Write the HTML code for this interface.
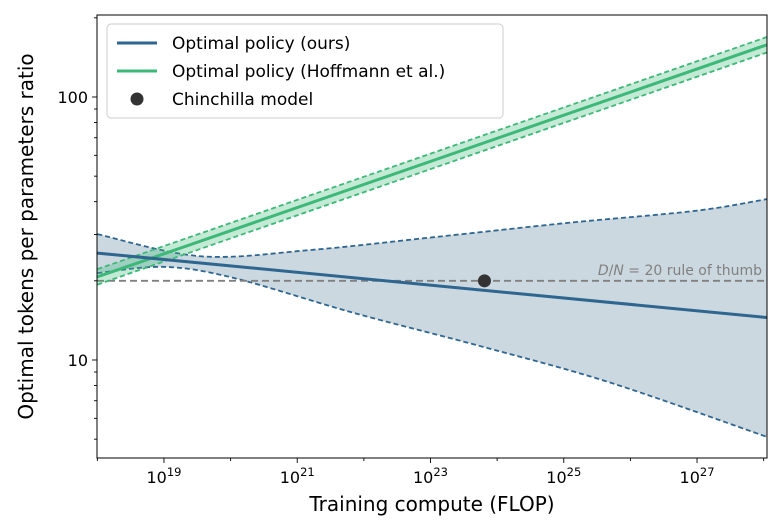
<!DOCTYPE html>
<html><head><meta charset="utf-8"><style>
body{margin:0;background:#fff;}
svg{display:block;font-family:"DejaVu Sans","Liberation Sans",sans-serif;}
</style></head><body>
<svg id="chart" width="784" height="527" viewBox="0 0 784 527" xmlns="http://www.w3.org/2000/svg"></svg>
<script>
// Data
const upperExp = [18, 19.55, 21.2, 23.1, 25.05, 26.97, 28.05];
const oursUpper = [30.1, 24.8, 26.2, 29.4, 33.2, 36.9, 40.9];
const lowerExp = [18, 19.0, 20.05, 21.85, 23.8, 25.7, 28.05];
const oursLower = [21.4, 22.6, 20.5, 15.1, 11.2, 8.2, 5.1];
const rangeExp = [18, 28.05];
const oursEnds = [25.5, 14.5];
const hoffEnds = [20.7, 158];
const hoffBandRatio = 1.07;
const chinchillaExp = 23.81, chinchillaVal = 20;
const ruleVal = 20;
const xTickExps = [19, 21, 23, 25, 27];
const yTickVals = [10, 100];

const L=97,R=767,T=15,B=458;
const X0=17.995,X1=28.05;
const Ymin=Math.log10(4.24),Ymax=Math.log10(205);
const xs=e=>L+(e-X0)/(X1-X0)*(R-L);
const ys=v=>B-(Math.log10(v)-Ymin)/(Ymax-Ymin)*(B-T);
const svg=document.getElementById('chart');
const NS='http://www.w3.org/2000/svg';
function mk(tag,attrs,parent){const e=document.createElementNS(NS,tag);for(const k in attrs)e.setAttribute(k,attrs[k]);(parent||svg).appendChild(e);return e;}
function smooth(pts){
 let d='M'+pts[0][0]+','+pts[0][1];
 for(let i=0;i<pts.length-1;i++){
  const p0=pts[Math.max(0,i-1)],p1=pts[i],p2=pts[i+1],p3=pts[Math.min(pts.length-1,i+2)];
  const c1=[p1[0]+(p2[0]-p0[0])/6,p1[1]+(p2[1]-p0[1])/6];
  const c2=[p2[0]-(p3[0]-p1[0])/6,p2[1]-(p3[1]-p1[1])/6];
  d+=' C'+c1+' '+c2+' '+p2;
 }
 return d;
}

const clip=mk('clipPath',{id:'pc'});mk('rect',{x:L,y:T,width:R-L,height:B-T},clip);
const g=mk('g',{'clip-path':'url(#pc)'});

const upPts=upperExp.map((e,i)=>[xs(e),ys(oursUpper[i])]);
const loPts=lowerExp.map((e,i)=>[xs(e),ys(oursLower[i])]);
const upD=smooth(upPts), loD=smooth(loPts);
const loRevD=smooth(loPts.slice().reverse());
let band=mk('path',{d:upD+' L'+loRevD.slice(1)+' Z',fill:'#2e6385','fill-opacity':0.25,stroke:'none'},g);


let pu=mk('path',{d:upD,fill:'none',stroke:'#2f6690','stroke-width':1.8,'stroke-dasharray':'5,3'},g);


let pl=mk('path',{d:loD,fill:'none',stroke:'#2f6690','stroke-width':1.8,'stroke-dasharray':'5,3'},g);



let rl=mk('line',{x1:L,x2:R,y1:ys(ruleVal),y2:ys(ruleVal),stroke:'#808080','stroke-width':1.8,'stroke-dasharray':'7,4'},g);


let rt=mk('text',{x:762,y:ys(ruleVal)-6,'text-anchor':'end','font-size':14,fill:'#808080'});
rt.innerHTML='<tspan font-style="italic">D</tspan>/<tspan font-style="italic">N</tspan> = 20 rule of thumb';



function hoff(f){return rangeExp.map((e,i)=>xs(e)+','+ys(hoffEnds[i]*f)).join(' ');}
function hoffRev(f){return rangeExp.map((e,i)=>xs(e)+','+ys(hoffEnds[i]*f)).reverse().join(' ');}
let hb=mk('polygon',{points:hoff(hoffBandRatio)+' '+hoffRev(1/hoffBandRatio),fill:'#3cb878','fill-opacity':0.3},g);


for(const [f,n] of [[hoffBandRatio,'hoffmann-upper-bound'],[1/hoffBandRatio,'hoffmann-lower-bound']]){
 let l=mk('polyline',{points:hoff(f),fill:'none',stroke:'#3cb878','stroke-width':1.8,'stroke-dasharray':'5,3'},g);
 
 
}
let hl=mk('polyline',{points:hoff(1),fill:'none',stroke:'#3cb878','stroke-width':3},g);



let ol=mk('polyline',{points:rangeExp.map((e,i)=>xs(e)+','+ys(oursEnds[i])).join(' '),fill:'none',stroke:'#2f6690','stroke-width':3},g);



let cp=mk('circle',{cx:xs(chinchillaExp),cy:ys(chinchillaVal),r:6.5,fill:'#333'});



let fr=mk('rect',{x:L,y:T,width:R-L,height:B-T,fill:'none',stroke:'#000','stroke-width':1});



for(let e=18;e<=28;e++){
 const x=xs(e);if(x<L-0.5||x>R)continue;
 const major=xTickExps.includes(e);
 mk('line',{x1:x,x2:x,y1:B,y2:B+(major?5:3),stroke:'#000','stroke-width':0.9});
}
for(const e of xTickExps){
 let t=mk('text',{x:xs(e),y:B+25,'text-anchor':'middle','font-size':16,fill:'#000'});
 t.innerHTML='10<tspan font-size="11.5" dy="-7">'+e+'</tspan>';
 
 
}
for(let d=0;d<=2;d++)for(let m=1;m<10;m++){
 const v=m*Math.pow(10,d);const y=ys(v);if(y<T||y>B)continue;
 const major=yTickVals.includes(v);
 mk('line',{x1:L,x2:L-(major?5:3),y1:y,y2:y,stroke:'#000','stroke-width':0.9});
}
for(const v of yTickVals){
 let t=mk('text',{x:L-9,y:ys(v)+6,'text-anchor':'end','font-size':16,fill:'#000'});
 t.textContent=v;
 
 
}
let xt=mk('text',{x:(L+R)/2,y:511,'text-anchor':'middle','font-size':20,fill:'#000'});
xt.textContent='Training compute (FLOP)';


let yt=mk('text',{x:0,y:0,'text-anchor':'middle','font-size':20,fill:'#000',transform:'translate(33,'+(T+B)/2+') rotate(-90)'});
yt.textContent='Optimal tokens per parameters ratio';



const lg=mk('g',{});


mk('rect',{x:107,y:24,width:396,height:94,rx:4,fill:'#fff','fill-opacity':0.85,stroke:'#ccc'},lg);
const items=[['Optimal policy (ours)','#2f6690','line'],['Optimal policy (Hoffmann et al.)','#3cb878','line'],['Chinchilla model','#333','dot']];
items.forEach((it,i)=>{
 const y=43+i*28;
 const ent=mk('g',{},lg);
 
 
 if(it[2]=='line')mk('line',{x1:117,x2:157,y1:y,y2:y,stroke:it[1],'stroke-width':3},ent);
 else mk('circle',{cx:137,cy:y,r:6.5,fill:it[1]},ent);
 const t=mk('text',{x:172,y:y+6,'font-size':17,fill:'#000'},ent);t.textContent=it[0];
});
</script>
</body></html>
